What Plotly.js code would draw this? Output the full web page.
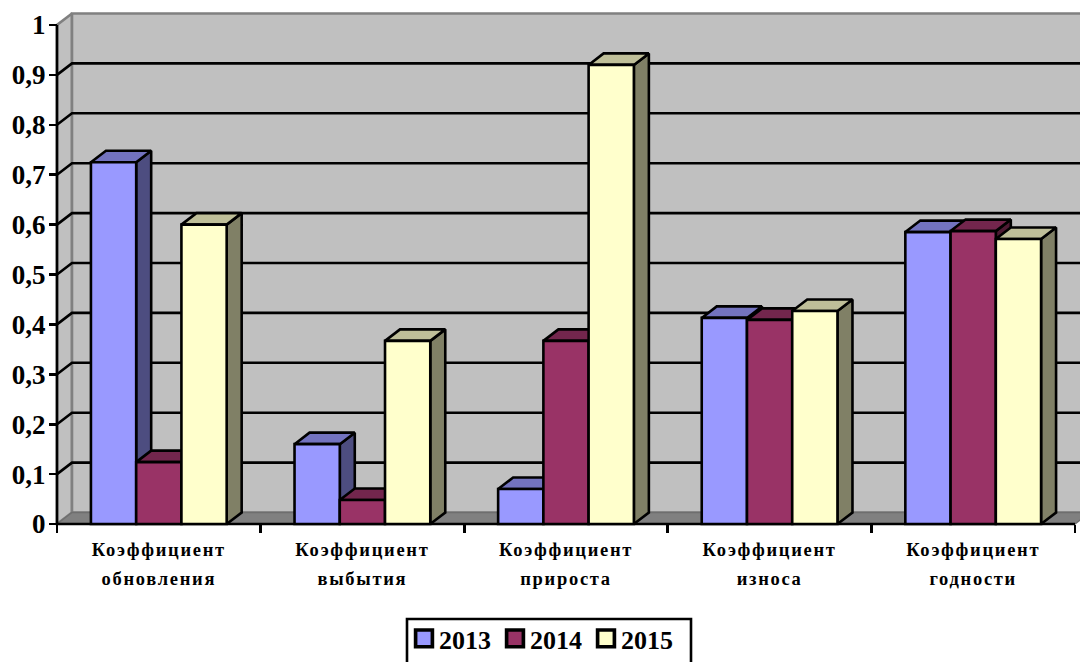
<!DOCTYPE html>
<html><head><meta charset="utf-8">
<script src="https://cdn.plot.ly/plotly-3.0.1.min.js"></script>
<style>
html,body{margin:0;padding:0;background:#fff;overflow:hidden}
.x2tick text{letter-spacing:1.7px}
.legendpoints path{transform:translate(17px,-4px) scale(1.4)}
.legendtext{transform:translate(-8px,-4px)}
</style></head><body><div id="c" style="width:1080px;height:662px"></div>
<script>
const categories = ['Коэффициент<br>обновления','Коэффициент<br>выбытия','Коэффициент<br>прироста','Коэффициент<br>износа','Коэффициент<br>годности'];
const values2013 = [0.725,0.16,0.07,0.413,0.585];
const values2014 = [0.124,0.048,0.367,0.409,0.587];
const values2015 = [0.6,0.367,0.92,0.427,0.571];
const seriesNames = ['2013','2014','2015'];
const frontColors = ['#9999FF','#993366','#FFFFCC'];
const sideColors = ['#4D4D80','#4D1A33','#808066'];
const topColors = ['#7373BF','#73264D','#BFBF99'];
const yTicks = [0,0.1,0.2,0.3,0.4,0.5,0.6,0.7,0.8,0.9,1];

const CATW = 203.6, UNITH = 499;
const DX = 15/CATW, DY = 11.5/UNITH, GAP = 1/3, W = (1-GAP)/3, LW = 2.6;
const n = categories.length, L = -0.5, R = n-0.5;
const all = [values2013,values2014,values2015];
function poly(pts,fill,lc,lw){
  const x=[],y=[];
  pts.forEach(p=>{p.forEach(q=>{x.push(q[0]);y.push(q[1]);});x.push(p[0][0],null);y.push(p[0][1],null);});
  return {type:'scatter',mode:'lines',x,y,fill:'toself',fillcolor:fill,line:{color:lc,width:lw},
    showlegend:false,hoverinfo:'skip',xaxis:'x',yaxis:'y'};
}
const traces=[];
traces.push(poly([[[L,0],[L+DX,DY],[L+DX,1+DY],[L,1]]],'#C0C0C0','#808080',2.6));
traces.push(poly([[[L+DX,DY],[R+DX,DY],[R+DX,1+DY],[L+DX,1+DY]]],'#C0C0C0','#808080',2.6));
traces.push(poly([[[L,0],[L+DX,DY],[R+DX,DY],[R,0]]],'#808080','#6E6E6E',1.5));
const gx=[],gy=[];
yTicks.filter(v=>v>0&&v<1).forEach(v=>{gx.push(L,L+DX,R+DX,null);gy.push(v,v+DY,v+DY,null);});
traces.push({type:'scatter',mode:'lines',x:gx,y:gy,line:{color:'#000',width:LW},showlegend:false,hoverinfo:'skip'});
all.forEach((vals,s)=>{
  const tops=[],sides=[];
  vals.forEach((v,i)=>{
    const l=i-0.5+GAP/2+s*W, r=l+W;
    sides.push([[r,0],[r+DX,DY],[r+DX,v+DY],[r,v]]);
    tops.push([[l,v],[l+DX,v+DY],[r+DX,v+DY],[r,v]]);
  });
  traces.push(poly(sides,sideColors[s],'#000',LW));
  traces.push(poly(tops,topColors[s],'#000',LW));
});
// axis lines
traces.push({type:'scatter',mode:'lines',x:[L,L,R],y:[1,0,0],line:{color:'#000',width:LW},showlegend:false,hoverinfo:'skip'});
const labels = categories.map(c=>c.split('<br>').map(t=>'<span style="font-size:18.5px">'+t+'</span>').join('<br>'));
all.forEach((vals,s)=>traces.push({type:'bar',name:seriesNames[s],x:labels,y:vals,xaxis:'x2',yaxis:'y2',
  marker:{color:frontColors[s],line:{color:'#000',width:LW}}}));
const fam='"Liberation Serif","Times New Roman",serif';
const padL=7,padR=5,padT=15,padB=6;
const xr=[L-padL/CATW,R+padR/CATW], yr=[-padB/UNITH,1+padT/UNITH];
const plotW=1018+padL+padR, plotH=UNITH+padT+padB;
const mL=57-padL, mT=25-padT, mB=662-524-padB;
const px=v=>(v-mL)/plotW, py=v=>1-(v-mT)/plotH;
const layout={width:1080,height:662,margin:{l:mL,r:1080-mL-plotW,t:mT,b:mB,autoexpand:false},paper_bgcolor:'#fff',plot_bgcolor:'rgba(0,0,0,0)',
  separators:', ',barmode:'group',bargap:GAP,bargroupgap:0,showlegend:true,
  font:{family:fam,color:'#000'},
  xaxis:{type:'linear',range:xr,showgrid:false,zeroline:false,showticklabels:false,ticks:'',showline:false},
  yaxis:{range:yr,anchor:'free',position:padL/plotW,tickvals:yTicks,showgrid:false,zeroline:false,showline:false,ticks:'outside',ticklen:8,tickwidth:LW,tickcolor:'#000',
    tickfont:{family:fam,size:27,weight:700,color:'#000'},ticklabelstandoff:-2},
  xaxis2:{type:'category',overlaying:'x',anchor:'free',position:padB/plotH,side:'bottom',range:xr,categoryorder:'array',categoryarray:labels,tickson:'boundaries',
    showgrid:false,showline:false,ticks:'outside',ticklen:8,tickwidth:LW,tickcolor:'#000',tickangle:0,ticklabelstandoff:9,
    tickfont:{family:fam,size:22,weight:700,color:'#000'}},
  yaxis2:{overlaying:'y',range:yr,visible:false,showgrid:false,zeroline:false},
  legend:{orientation:'h',xref:'container',yref:'container',x:407/1080,y:1-619/662,xanchor:'left',yanchor:'top',entrywidth:46,entrywidthmode:'pixels',
    borderwidth:0,bgcolor:'rgba(0,0,0,0)',font:{family:fam,size:26,weight:700,color:'#000'},itemclick:false,itemdoubleclick:false},
  shapes:[{type:'rect',xref:'paper',yref:'paper',x0:px(407),x1:px(691),y0:py(619),y1:py(672),line:{color:'#000',width:2.6},fillcolor:'rgba(0,0,0,0)',layer:'above'}]
};
Plotly.newPlot('c',traces,layout,{displayModeBar:false,staticPlot:true});
</script></body></html>
